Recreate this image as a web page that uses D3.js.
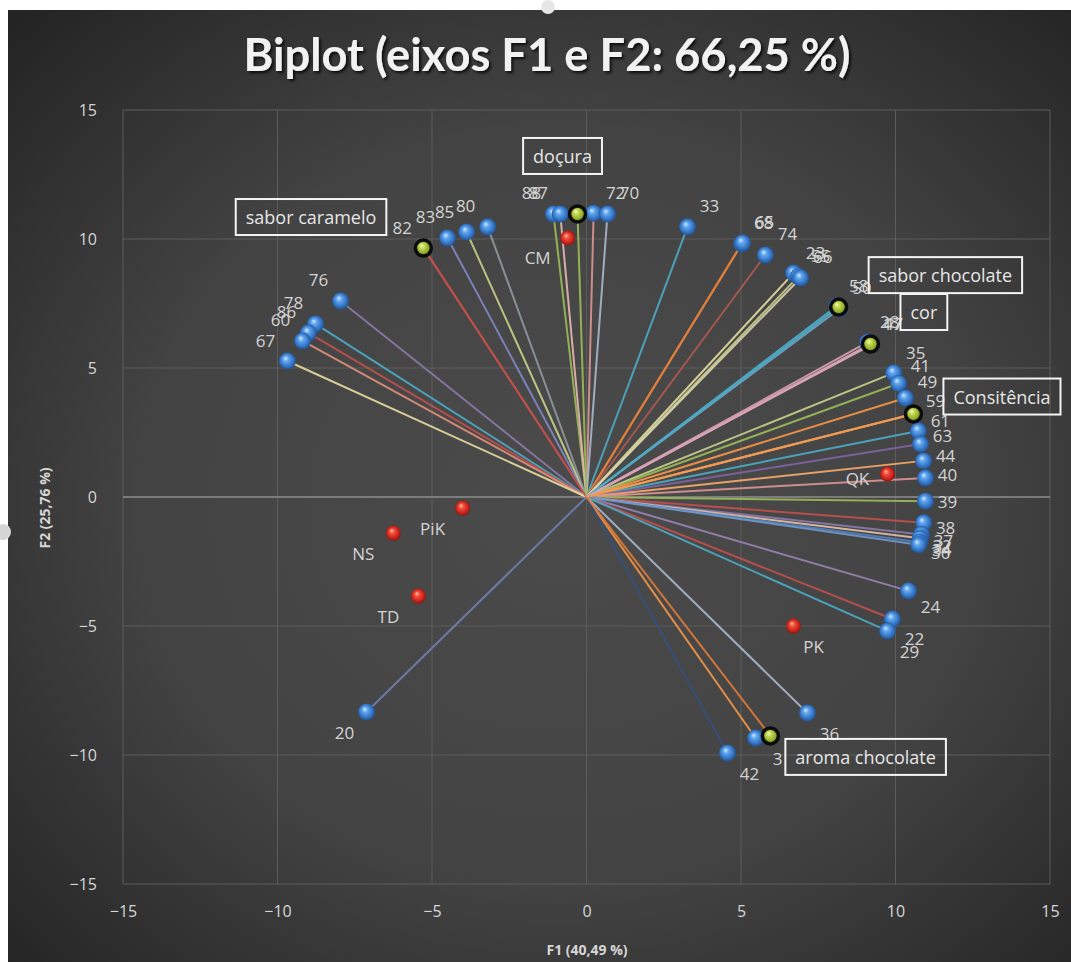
<!DOCTYPE html>
<html>
<head>
<meta charset="utf-8">
<script src="https://cdn.jsdelivr.net/npm/d3@7"></script>
<style>
  html, body { margin: 0; padding: 0; background: #ffffff; }
  svg { display: block; }
</style>
</head>
<body>
<svg id="chart" width="1071" height="962"></svg>
<script>
// ---- Data -------------------------------------------------------------
// Observations (blue points with vectors from the origin)
const obsLabels = ["76","78","86","60","67",
                   "82","83","85","80",
                   "88","87","72","70","33","68","65","74","23","55","66",
                   "58","50","28","17","47",
                   "35","41","49","59","61","63","44","40","39",
                   "38","37","32","34","30",
                   "24","22","29","36","3","42","20"];
const obsF1 = [-7.96,-8.77,-9.00,-9.19,-9.68,
               -5.25,-4.50,-3.88,-3.20,
               -1.07,-0.85,0.23,0.68,3.27,5.02,5.05,5.79,6.70,6.86,6.93,
               8.10,8.20,9.10,9.19,9.22,
               9.94,10.10,10.32,10.58,10.74,10.81,10.91,10.97,10.97,
               10.91,10.84,10.80,10.78,10.75,
               10.42,9.90,9.74,7.15,5.47,4.56,-7.12];
const obsF2 = [7.60,6.71,6.36,6.05,5.27,
               9.62,10.04,10.27,10.47,
               10.97,10.97,11.00,10.97,10.47,9.81,9.85,9.38,8.68,8.55,8.49,
               7.40,7.30,6.00,5.93,5.90,
               4.81,4.40,3.84,3.22,2.56,2.05,1.40,0.74,-0.16,
               -1.00,-1.45,-1.60,-1.75,-1.85,
               -3.64,-4.73,-5.19,-8.37,-9.34,-9.92,-8.33];

// Active variables (green points, boxed labels)
const varLabels = ["sabor caramelo","doçura","sabor chocolate","cor","Consitência","aroma chocolate"];
const varF1 = [-5.28,-0.29,8.16,9.19,10.58,5.95];
const varF2 = [9.65,10.97,7.36,5.93,3.22,-9.26];

// Products (red points)
const prodLabels = ["CM","QK","PK","PiK","NS","TD"];
const prodF1 = [-0.61,9.74,6.70,-4.01,-6.25,-5.44];
const prodF2 = [10.04,0.89,-5.00,-0.43,-1.40,-3.84];

// Axes
const xTicks = [-15,-10,-5,0,5,10,15];
const yTicks = [-15,-10,-5,0,5,10,15];
const titleText = "Biplot (eixos F1 e F2: 66,25 %)";
const xTitleText = "F1 (40,49 %)";
const yTitleText = "F2 (25,76 %)";

// ---- Layout -------------------------------------------------------------
const W = 1071, H = 962;
const svg = d3.select("#chart");
const defs = svg.append("defs");
const FONT = "'Open Sans', 'DejaVu Sans', sans-serif";

const x = d3.scaleLinear().domain([-15, 15]).range([123, 1050]);
const y = d3.scaleLinear().domain([-15, 15]).range([884, 110]);

// chart background: dark with a soft radial vignette
const bg = defs.append("radialGradient").attr("id", "bgGrad")
  .attr("cx", "52%").attr("cy", "52%").attr("r", "72%");
bg.append("stop").attr("offset", "0%").attr("stop-color", "#4b4b4b");
bg.append("stop").attr("offset", "55%").attr("stop-color", "#434343");
bg.append("stop").attr("offset", "100%").attr("stop-color", "#242424");

svg.append("rect").attr("x", 0).attr("y", 0).attr("width", W).attr("height", H).attr("fill", "#ffffff");
svg.append("rect").attr("x", 8).attr("y", 10).attr("width", W - 8).attr("height", H - 10)
  .attr("fill", "url(#bgGrad)");

// frame handles at the chart edge
svg.append("circle").attr("cx", 548).attr("cy", 7).attr("r", 7).attr("fill", "#e6e6e6");
svg.append("circle").attr("cx", 3).attr("cy", 532).attr("r", 8).attr("fill", "#d6d6d6");

// sphere shading
function sphere(id, c0, c1, c2, c3) {
  const g = defs.append("radialGradient").attr("id", id)
    .attr("cx", "50%").attr("cy", "50%").attr("r", "55%")
    .attr("fx", "38%").attr("fy", "32%");
  g.append("stop").attr("offset", "0%").attr("stop-color", c0);
  g.append("stop").attr("offset", "30%").attr("stop-color", c1);
  g.append("stop").attr("offset", "75%").attr("stop-color", c2);
  g.append("stop").attr("offset", "100%").attr("stop-color", c3);
}
sphere("blueBall", "#d4ebff", "#5fa6ee", "#2f6dbd", "#1c4680");
sphere("greenBall", "#f6fbb8", "#c3d752", "#86a322", "#5d7610");
sphere("redBall", "#ffc0b0", "#f2503c", "#c21f17", "#7e100c");

const shadow = defs.append("filter").attr("id", "titleShadow")
  .attr("x", "-5%").attr("y", "-20%").attr("width", "110%").attr("height", "150%");
shadow.append("feDropShadow").attr("dx", 2).attr("dy", 2).attr("stdDeviation", 1.5)
  .attr("flood-color", "#000").attr("flood-opacity", 0.8);

// ---- Title --------------------------------------------------------------
const title = svg.append("text")
  .attr("x", 547).attr("y", 71)
  .attr("text-anchor", "middle")
  .attr("font-family", "Lato, 'Open Sans', sans-serif")
  .attr("font-weight", "bold")
  .attr("font-size", 40)
  .attr("fill", "#f2f2f2")
  .attr("filter", "url(#titleShadow)")
  .text(titleText);
const tw = title.node().getComputedTextLength();
title.attr("font-size", 40 * 607 / tw);

// ---- Grid ---------------------------------------------------------------
const grid = svg.append("g");
grid.selectAll("line.v").data(xTicks).join("line")
  .attr("x1", d => x(d)).attr("x2", d => x(d))
  .attr("y1", y(15)).attr("y2", y(-15))
  .attr("stroke", "#5c5c5c").attr("stroke-width", 1);
grid.selectAll("line.h").data(yTicks).join("line")
  .attr("x1", x(-15)).attr("x2", x(15))
  .attr("y1", d => y(d)).attr("y2", d => y(d))
  .attr("stroke", d => d === 0 ? "#8e8e8e" : "#5c5c5c")
  .attr("stroke-width", d => d === 0 ? 1.5 : 1);

// ---- Axes ---------------------------------------------------------------
const xAxis = svg.append("g").attr("transform", `translate(0,${y(-15)})`)
  .call(d3.axisBottom(x).tickValues(xTicks).tickSize(0).tickPadding(22).tickFormat(d3.format("d")));
const yAxis = svg.append("g").attr("transform", `translate(${x(-15)},0)`)
  .call(d3.axisLeft(y).tickValues(yTicks).tickSize(0).tickPadding(26).tickFormat(d3.format("d")));
[xAxis, yAxis].forEach(a => {
  a.select(".domain").remove();
  a.selectAll("text").attr("font-family", FONT).attr("font-size", 16).attr("fill", "#d6d6d6");
});

svg.append("text")
  .attr("x", 587).attr("y", 955)
  .attr("text-anchor", "middle")
  .attr("font-family", FONT).attr("font-weight", "bold").attr("font-size", 14)
  .attr("fill", "#d6d6d6")
  .text(xTitleText);
svg.append("text")
  .attr("transform", "translate(50,508) rotate(-90)")
  .attr("text-anchor", "middle")
  .attr("font-family", FONT).attr("font-weight", "bold").attr("font-size", 14)
  .attr("fill", "#d6d6d6")
  .text(yTitleText);

// ---- Vectors ------------------------------------------------------------
// one stroke colour per observation vector, in the order of obsLabels
const obsColors = [
  "#8a7aa8","#4bacc6","#c0504d","#e0907a","#e6dca0",
  "#c0504d","#8088c4","#c8d08a","#8f9a9e",
  "#9bbb59","#e7b9b0","#d99694","#a9b8cc","#4bacc6","#f79646","#e07b39","#b05a50","#e6dca0","#c8d08a","#d9d3b0",
  "#4bacc6","#6fa3c8","#d6a0b0","#b7a3c8","#e0b0c0",
  "#c8d08a","#9bbb59","#f79646","#e6c090","#4bacc6","#8064a2","#f9ab6b","#d99694","#9bbb59",
  "#c0504d","#8a7aa8","#e6c0a8","#4f81bd","#729aca",
  "#9983b5","#c0504d","#4bacc6","#a9b6cc","#f79646","#34507e","#6f80b0"];

const obs = obsLabels.map((l, i) => ({ label: l, f1: obsF1[i], f2: obsF2[i], c: obsColors[i] }));
const vars = varLabels.map((l, i) => ({ label: l, f1: varF1[i], f2: varF2[i] }));
const prods = prodLabels.map((l, i) => ({ label: l, f1: prodF1[i], f2: prodF2[i] }));

const vec = svg.append("g").attr("fill", "none").attr("stroke-width", 2);
vec.selectAll("line.o").data(obs).join("line")
  .attr("x1", x(0)).attr("y1", y(0))
  .attr("x2", d => x(d.f1)).attr("y2", d => y(d.f2))
  .attr("stroke", d => d.c)
  .attr("stroke-opacity", 0.9);
const varColors = ["#c0504d","#9bbb59","#4bacc6","#d9a0b0","#f79646","#e07b39"];
vec.selectAll("line.v").data(vars).join("line")
  .attr("x1", x(0)).attr("y1", y(0))
  .attr("x2", d => x(d.f1)).attr("y2", d => y(d.f2))
  .attr("stroke", (d, i) => varColors[i])
  .attr("stroke-opacity", 0.9);

// ---- Points -------------------------------------------------------------
svg.append("g").selectAll("circle").data(obs).join("circle")
  .attr("cx", d => x(d.f1)).attr("cy", d => y(d.f2)).attr("r", 8.5)
  .attr("fill", "url(#blueBall)");
svg.append("g").selectAll("circle").data(prods).join("circle")
  .attr("cx", d => x(d.f1)).attr("cy", d => y(d.f2)).attr("r", 7.5)
  .attr("fill", "url(#redBall)");
svg.append("g").selectAll("circle").data(vars).join("circle")
  .attr("cx", d => x(d.f1)).attr("cy", d => y(d.f2)).attr("r", 8)
  .attr("fill", "url(#greenBall)")
  .attr("stroke", "#0c0c0c").attr("stroke-width", 3.5);

// ---- Labels -------------------------------------------------------------
const clamp = (v, a, b) => Math.max(a, Math.min(b, v));
svg.append("g").selectAll("text").data(obs).join("text")
  .attr("x", d => x(d.f1) + 22 * Math.sign(d.f1))
  .attr("y", d => y(d.f2) - 21 * clamp(d.f2 / 5, -1, 1))
  .attr("text-anchor", "middle").attr("dominant-baseline", "central")
  .attr("font-family", FONT).attr("font-size", 17).attr("fill", "#d4d4d4")
  .text(d => d.label);

svg.append("g").selectAll("text").data(prods).join("text")
  .attr("x", d => x(d.f1) + (d.f1 > 0 && d.f2 < 0 ? 20 : -30))
  .attr("y", d => y(d.f2) + (d.f1 > 5 && d.f2 >= 0 ? 4 : 20))
  .attr("text-anchor", "middle").attr("dominant-baseline", "central")
  .attr("font-family", FONT).attr("font-size", 17).attr("fill", "#d4d4d4")
  .text(d => d.label);

// boxed labels for the active variables
const boxes = svg.append("g");
vars.forEach(d => {
  const px = x(d.f1), py = y(d.f2);
  const g = boxes.append("g");
  const t = g.append("text")
    .attr("dominant-baseline", "central")
    .attr("font-family", FONT).attr("font-size", 18).attr("fill", "#e6e6e6")
    .text(d.label);
  const w = t.node().getComputedTextLength() + 20, h = 36;
  let left, cy;
  if (Math.abs(d.f1) < 1) { left = px - 15 - w / 2; cy = py - 58; }
  else if (d.f1 < 0) { left = px - 37 - w; cy = py - 31; }
  else if (d.f2 > 0) { left = px + 30; cy = py - Math.min(32, 5.4 * d.f2); }
  else { left = px + 15; cy = py + 21; }
  t.attr("x", left + 10).attr("y", cy);
  g.insert("rect", "text")
    .attr("x", left).attr("y", cy - h / 2).attr("width", w).attr("height", h)
    .attr("fill", "none").attr("stroke", "#f4f4f4").attr("stroke-width", 2);
});
</script>
</body>
</html>
